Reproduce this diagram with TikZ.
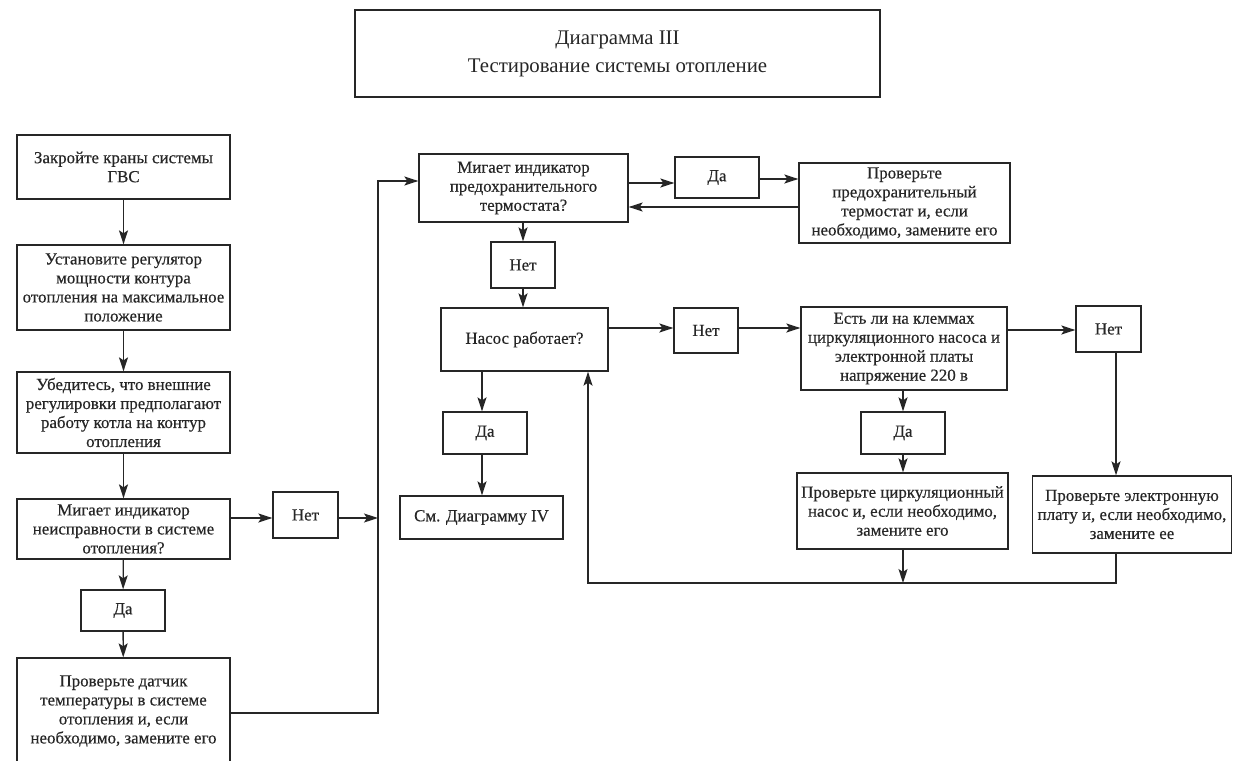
\documentclass[tikz,border=0pt]{standalone}
\usepackage{fontspec}
\setmainfont{Liberation Serif}[FakeBold=0.35]
\newfontfamily\ttlfam{Liberation Serif}
\usetikzlibrary{arrows.meta}
\newcommand\bxfont{\fontsize{16.9}{19}\selectfont}
\newcommand\ttlfont{\ttlfam\fontsize{20.8}{28}\selectfont}
\begin{document}
\begin{tikzpicture}[x=1pt,y=-1pt,
  box/.style={draw=black!85, line width=1.3pt, align=center, inner sep=1pt, font=\bxfont, text=black!85},
  conn/.style={draw=black!85, line width=1.3pt},
  arr/.style={conn, -{Stealth[length=14pt,width=9pt,inset=3pt]}}]
\useasboundingbox (0,0) rectangle (1233,760);
\clip (0,0) rectangle (1233,760);
\fill[white] (0,0) rectangle (1233,760);
% title
\node[box, font=\ttlfont, minimum width=525pt, minimum height=87pt] (title) at (617.5,53.5) {Диаграмма III\\Тестирование системы отопление};
% left column
\node[box, minimum width=213pt, minimum height=64pt] (b1) at (123.5,167) {Закройте краны системы\\ГВС};
\node[box, minimum width=213pt, minimum height=85pt] (b2) at (123.5,287.5) {Установите регулятор\\мощности контура\\отопления на максимальное\\положение};
\node[box, minimum width=213pt, minimum height=81pt] (b3) at (123.5,412.5) {Убедитесь, что внешние\\регулировки предполагают\\работу котла на контур\\отопления};
\node[box, minimum width=213pt, minimum height=60pt] (b4) at (123.5,529) {Мигает индикатор\\неисправности в системе\\отопления?};
\node[box, minimum width=84pt, minimum height=41pt] (da1) at (123,610.5) {Да};
\node[box, minimum width=213pt, minimum height=106pt] (b5) at (123.5,711) {Проверьте датчик\\температуры в системе\\отопления и, если\\необходимо, замените его};
\node[box, minimum width=65pt, minimum height=46pt] (net1) at (305.5,515) {Нет};
% middle
\node[box, minimum width=209pt, minimum height=68pt] (m2) at (523.5,188) {Мигает индикатор\\предохранительного\\термостата?};
\node[box, minimum width=84pt, minimum height=41pt] (da2) at (717,177.5) {Да};
\node[box, minimum width=211pt, minimum height=80pt] (p1) at (904.5,203) {Проверьте\\предохранительный\\термостат и, если\\необходимо, замените его};
\node[box, minimum width=64pt, minimum height=46pt] (net2) at (523,265) {Нет};
\node[box, minimum width=167pt, minimum height=63pt] (nasos) at (524.5,339.5) {Насос работает?};
\node[box, minimum width=64pt, minimum height=45pt] (net3) at (706,330.5) {Нет};
\node[box, minimum width=206pt, minimum height=83pt] (est) at (904,348.5) {Есть ли на клеммах\\циркуляционного насоса и\\электронной платы\\напряжение 220 в};
\node[box, minimum width=65pt, minimum height=46pt] (net4) at (1108.5,329) {Нет};
\node[box, minimum width=84pt, minimum height=42pt] (da3) at (485,433) {Да};
\node[box, minimum width=163pt, minimum height=43pt] (sm) at (481.5,517.5) {См. Диаграмму IV};
\node[box, minimum width=84pt, minimum height=42pt] (da4) at (903,433) {Да};
\node[box, minimum width=211pt, minimum height=76pt] (pc) at (902.5,511) {Проверьте циркуляционный\\насос и, если необходимо,\\замените его};
\node[box, minimum width=199pt, minimum height=77pt] (pe) at (1132,514.5) {Проверьте электронную\\плату и, если необходимо,\\замените ее};
% helper coordinates
\coordinate (c1) at (378,713);
\coordinate (c2) at (378,181);
\coordinate (ya) at (0,183);
\coordinate (yb) at (0,179);
\coordinate (yc) at (0,207);
\coordinate (yd) at (0,328);
\coordinate (ye) at (0,330);
\coordinate (yf) at (0,518);
\coordinate (xn) at (482,0);
\coordinate (xv) at (903,0);
\coordinate (xr) at (1116,0);
\coordinate (ret) at (588,583);
% left column arrows
\draw[arr] (b1) -- (b2);
\draw[arr] (b2) -- (b3);
\draw[arr] (b3) -- (b4);
\draw[arr] (b4) -- (da1);
\draw[arr] (da1) -- (b5);
\draw[arr] (b4.east |- yf) -- (net1.west |- yf);
\draw[arr] (net1.east |- yf) -- (c1 |- yf);
\draw[arr] (b5.east |- c1) -- (c1) -- (c2) -- (m2.west |- c2);
% middle
\draw[arr] (m2.east |- ya) -- (da2.west |- ya);
\draw[arr] (da2.east |- yb) -- (p1.west |- yb);
\draw[arr] (p1.west |- yc) -- (m2.east |- yc);
\draw[arr] (m2.south -| net2) -- (net2.north);
\draw[arr] (net2.south) -- (nasos.north -| net2);
\draw[arr] (nasos.east |- yd) -- (net3.west |- yd);
\draw[arr] (net3.east |- yd) -- (est.west |- yd);
\draw[arr] (est.east |- ye) -- (net4.west |- ye);
\draw[arr] (net4.south -| xr) -- (pe.north -| xr);
\draw[arr] (nasos.south -| xn) -- (da3.north -| xn);
\draw[arr] (da3.south -| xn) -- (sm.north -| xn);
\draw[arr] (est.south -| xv) -- (da4.north -| xv);
\draw[arr] (da4.south -| xv) -- (pc.north -| xv);
\draw[arr] (pc.south -| xv) -- (ret -| xv);
\draw[arr] (pe.south -| xr) -- (xr |- ret) -- (ret) -- (nasos.south -| ret);
\end{tikzpicture}
\end{document}
